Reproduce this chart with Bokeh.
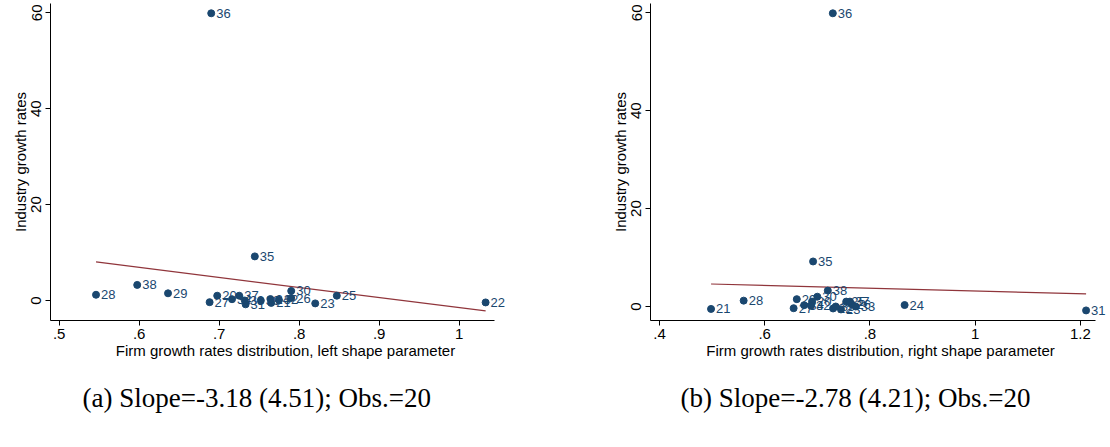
import numpy as np
from bokeh.plotting import figure
from bokeh.layouts import row
from bokeh.models import ColumnDataSource, Range1d, FixedTicker, CustomJSTickFormatter, Title
from bokeh.core.properties import value
from bokeh.embed import file_html
from bokeh.resources import INLINE

# ---- data ----
industries = ["20", "21", "22", "23", "24", "25", "26", "27", "28", "29",
              "30", "31", "32", "33", "34", "35", "36", "37", "38", "39"]
left_shape = [0.6975, 0.765, 1.033, 0.820, 0.764, 0.847, 0.790, 0.688, 0.546, 0.636,
              0.790, 0.733, 0.7745, 0.732, 0.716, 0.7445, 0.690, 0.725, 0.5975, 0.752]
right_shape = [0.690, 0.498, 0.730, 0.745, 0.866, 0.755, 0.765, 0.655, 0.560, 0.661,
               0.700, 1.211, 0.688, 0.773, 0.675, 0.692, 0.7295, 0.762, 0.720, 0.735]
growth = [1.0, -0.5, -0.4, -0.6, 0.3, 1.0, 0.5, -0.35, 1.2, 1.5,
          2.0, -0.8, 0.15, 0.0, 0.27, 9.2, 59.9, 1.0, 3.25, 0.0]

left_xticks = [0.5, 0.6, 0.7, 0.8, 0.9, 1.0]
right_xticks = [0.4, 0.6, 0.8, 1.0, 1.2]
yticks = [0, 20, 40, 60]

left_xlabel = "Firm growth rates distribution, left shape parameter"
right_xlabel = "Firm growth rates distribution, right shape parameter"
ylabel = "Industry growth rates"
left_caption = "(a) Slope=-3.18 (4.51); Obs.=20"
right_caption = "(b) Slope=-2.78 (4.21); Obs.=20"

NAVY = "#1a476f"
MAROON = "#90353b"
FONT = "Liberation Sans"

fmt = CustomJSTickFormatter(code="""
    let s = tick.toFixed(1);
    s = s.replace(/\\.0$/, '');
    s = s.replace(/^0\\./, '.');
    return s;
""")


def panel(xvals, xlabel, caption, xr, xbounds, yr, xticks, width, border_left, border_right, cap_offset):
    p = figure(width=width, height=447, output_backend="svg", toolbar_location=None,
               x_range=Range1d(*xr), y_range=Range1d(*yr),
               min_border_left=border_left, min_border_right=border_right,
               min_border_top=3, min_border_bottom=127)
    p.outline_line_color = None
    p.xgrid.visible = False
    p.ygrid.visible = False
    p.background_fill_color = "white"

    src = ColumnDataSource(dict(x=xvals, y=growth, lab=industries))
    # fitted line (OLS)
    b, a = np.polyfit(np.array(xvals), np.array(growth), 1)
    xs = np.array([min(xvals), max(xvals)])
    p.line(xs, a + b * xs, line_color=MAROON, line_width=1.2)

    p.scatter("x", "y", source=src, size=7, fill_color=NAVY, line_color=NAVY)
    p.text("x", "y", text="lab", source=src, x_offset=5, text_baseline="middle",
           text_align="left", text_color=NAVY, text_font=value(FONT),
           text_font_size=value("13px"))

    for ax in (p.xaxis[0], p.yaxis[0]):
        ax.axis_line_color = "black"
        ax.axis_line_width = 1
        ax.major_tick_line_color = "black"
        ax.major_tick_out = 5
        ax.major_tick_in = 0
        ax.minor_tick_line_color = None
        ax.major_label_text_font = FONT
        ax.major_label_text_font_size = "15px"
        ax.major_label_text_color = "black"
        ax.axis_label_text_font = FONT
        ax.axis_label_text_font_size = "15px"
        ax.axis_label_text_font_style = "normal"
        ax.axis_label_text_color = "black"

    p.xaxis.ticker = FixedTicker(ticks=xticks)
    p.xaxis.formatter = fmt
    p.xaxis.bounds = xbounds
    p.xaxis.axis_label = xlabel
    p.xaxis.major_label_standoff = 3
    p.xaxis.axis_label_standoff = 0

    p.yaxis.ticker = FixedTicker(ticks=yticks)
    p.yaxis.major_label_orientation = "vertical"
    p.yaxis.axis_label = ylabel
    p.yaxis.major_label_standoff = 4
    p.yaxis.axis_label_standoff = 0

    p.add_layout(Title(text=caption, align="left", offset=cap_offset,
                       vertical_align="middle", standoff=40,
                       text_font="Liberation Serif", text_font_size="27px",
                       text_font_style="normal", text_color="black"), "below")
    return p


left = panel(left_shape, left_xlabel, left_caption,
             xr=(0.4891, 1.0766), xbounds=(0.4891, 1.0441), yr=(-4.17, 61.94),
             xticks=left_xticks, width=555, border_left=50, border_right=35, cap_offset=32)
right = panel(right_shape, right_xlabel, right_caption,
              xr=(0.3829, 1.2574), xbounds=(0.3829, 1.2289), yr=(-2.86, 61.9),
              xticks=right_xticks, width=555, border_left=95, border_right=0, cap_offset=30)

layout = row(left, right)
open("out.html", "w").write(file_html(layout, INLINE))
